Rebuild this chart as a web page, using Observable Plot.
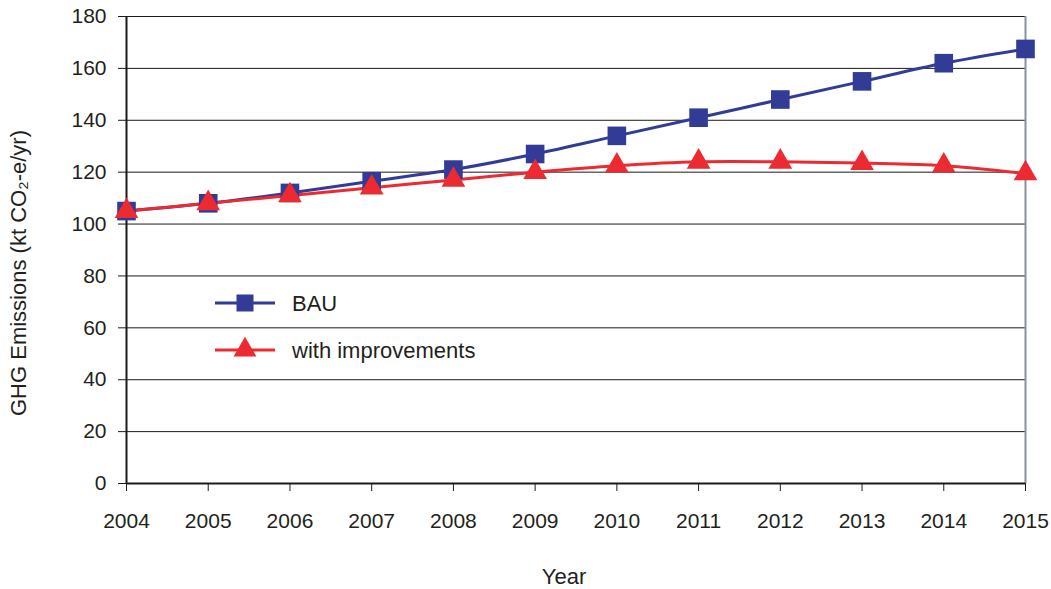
<!DOCTYPE html>
<html>
<head>
<meta charset="utf-8">
<script src="https://cdn.jsdelivr.net/npm/d3@7"></script>
<script src="https://cdn.jsdelivr.net/npm/@observablehq/plot@0.6"></script>
<style>
  html, body { margin: 0; padding: 0; background: #fff; }
  #wrap { position: relative; width: 1051px; height: 589px; }
  #legend { position: absolute; left: 0; top: 0; pointer-events: none; }
</style>
</head>
<body>
<div id="wrap"></div>
<script>
const years = [2004, 2005, 2006, 2007, 2008, 2009, 2010, 2011, 2012, 2013, 2014, 2015];
const bau = [105, 108, 112, 116.5, 121, 127, 134, 141, 148, 155, 162, 167.5];
const improved = [105, 108, 111, 114, 117, 120, 122.5, 124, 124, 123.5, 122.5, 119.5];
const yTicks = [0, 20, 40, 60, 80, 100, 120, 140, 160, 180];
const seriesNames = ["BAU", "with improvements"];
const xTitle = "Year";
const yTitle = "GHG Emissions (kt CO₂-e/yr)";
const colors = ["#323b96", "#ec2a31"];

const bauData = years.map((y, i) => ({year: y, value: bau[i]}));
const impData = years.map((y, i) => ({year: y, value: improved[i]}));

const font = "'Liberation Sans', Arial, sans-serif";
const ink = "#231f20";

const chart = Plot.plot({
  width: 1051,
  height: 589,
  marginLeft: 126,
  marginRight: 26,
  marginTop: 16,
  marginBottom: 106,
  style: {fontFamily: font, fontSize: "21px", color: ink, background: "#fff"},
  x: {domain: [years[0], years[years.length - 1]], ticks: years, tickFormat: "d", label: null},
  y: {domain: [0, 180], ticks: yTicks, label: null},
  marks: [
    Plot.ruleY(yTicks, {stroke: "#1a1a1a", strokeWidth: 1}),
    Plot.ruleX([years[years.length - 1]], {stroke: "#8a9299", strokeWidth: 2}),
    Plot.ruleX([years[0]], {stroke: "#1a1a1a", strokeWidth: 2}),
    Plot.ruleY([0], {stroke: "#1a1a1a", strokeWidth: 2}),
    Plot.axisX({ticks: years, tickFormat: "d", tickSize: 8, tickPadding: 22, fontSize: 21, label: null, stroke: "#1a1a1a"}),
    Plot.axisY({ticks: yTicks, tickSize: 8, tickPadding: 12, fontSize: 21, label: null, stroke: "#1a1a1a"}),
    Plot.text([xTitle], {frameAnchor: "bottom", text: d => d, textAnchor: "middle", dx: -12, dy: 100, fontSize: 22, fill: ink}),
    Plot.text([yTitle], {frameAnchor: "left", text: d => d, textAnchor: "middle", rotate: -90, dx: -108, dy: 23, fontSize: 22, fill: ink}),
    Plot.line(bauData, {x: "year", y: "value", stroke: colors[0], strokeWidth: 3, curve: "catmull-rom"}),
    Plot.line(impData, {x: "year", y: "value", stroke: colors[1], strokeWidth: 3, curve: "catmull-rom"}),
    Plot.dot(bauData, {x: "year", y: "value", symbol: "square", r: 10.5, fill: colors[0], stroke: null}),
    Plot.dot(impData, {x: "year", y: "value", symbol: "triangle", r: 8.8, fill: colors[1], stroke: null})
  ]
});
document.getElementById("wrap").appendChild(chart);

// Legend overlay
const leg = d3.select("#wrap").append("svg")
  .attr("id", "legend").attr("width", 1051).attr("height", 589);
const rowsY = [303, 350];
seriesNames.forEach((name, i) => {
  const g = leg.append("g").attr("transform", `translate(0,${rowsY[i]})`);
  g.append("line").attr("x1", 215).attr("x2", 275).attr("y1", 0).attr("y2", 0)
    .attr("stroke", colors[i]).attr("stroke-width", 3);
  const sym = i === 0 ? d3.symbolSquare : d3.symbolTriangle;
  const size = i === 0 ? 17 * 17 : Math.PI * 8.5 * 8.5;
  g.append("path").attr("d", d3.symbol(sym, size)()).attr("transform", "translate(245,0)")
    .attr("fill", colors[i]);
  g.append("text").attr("x", 292).attr("y", 0).attr("dy", "0.35em")
    .attr("font-family", font).attr("font-size", 22).attr("fill", ink).text(name);
});
</script>
</body>
</html>
